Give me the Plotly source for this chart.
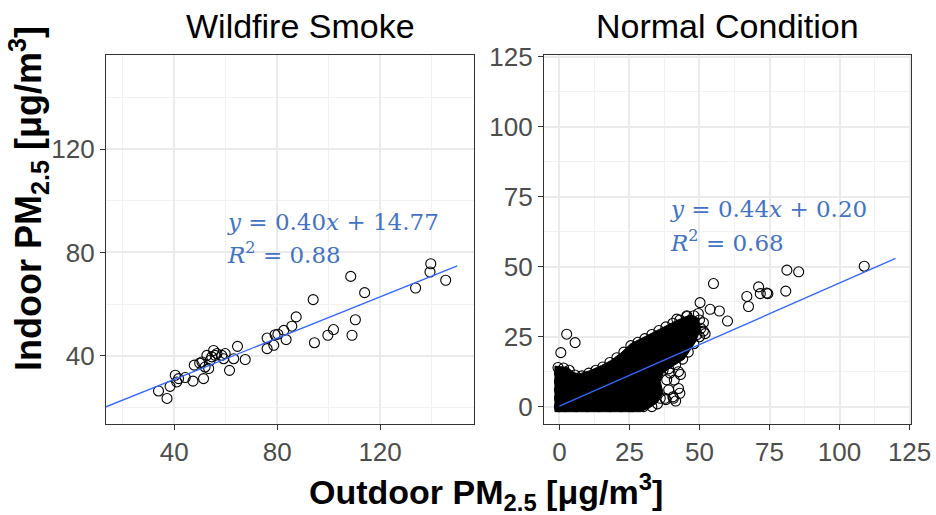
import plotly.graph_objects as go

# ---------------- data ----------------
# Wildfire smoke panel (outdoor x, indoor y)
wild_x = [33.9, 37.2, 38.4, 40.4, 41.0, 41.7, 44.3, 47.3, 47.8, 49.9, 50.8, 51.4, 52.0, 52.7, 53.4,
          54.0, 54.6, 55.3, 55.9, 56.6, 58.5, 59.2, 59.8, 61.5, 63.1, 64.6, 67.6, 76.1, 76.1, 78.7,
          79.2, 80.3, 82.6, 83.5, 85.7, 87.4, 94.0, 94.5, 99.7, 101.9, 108.6, 109.1, 110.4, 114.0,
          133.8, 139.4, 139.7, 145.5]
wild_y = [26.3, 23.4, 28.1, 32.4, 29.8, 31.1, 31.5, 30.1, 36.3, 37.1, 37.5, 31.1, 35.6, 40.1, 35.0,
          38.2, 39.5, 42.0, 40.1, 40.8, 40.1, 38.8, 40.8, 34.3, 38.8, 43.6, 38.5, 46.8, 42.7, 44.0,
          48.1, 48.3, 49.8, 46.2, 51.4, 55.0, 61.7, 45.0, 47.9, 50.1, 70.7, 47.9, 53.9, 64.4,
          66.2, 72.4, 75.6, 69.2]

# Normal condition panel: outline of the solid (over-plotted) mass
core_x = [-1.6, -1.6, 3.0, 5.0, 7.0, 11.0, 15.0, 18.4, 22.0, 25.5, 30.3, 36.2, 42.1, 46.9, 49.5,
          50.5, 48.5, 44.5, 40.0, 37.0, 36.0, 37.0, 35.0, 32.0, 29.0, 25.0, -1.6]
core_y = [-1.8, 14.5, 14.0, 12.2, 11.7, 12.9, 14.7, 16.5, 19.2, 22.5, 24.9, 27.9, 30.9, 32.9, 31.5,
          28.0, 23.0, 17.0, 14.2, 12.0, 9.0, 5.0, 1.5, -0.5, -1.8, -1.8, -1.8]

# Normal condition panel: individually visible points
norm_x = [2.6, 5.6, 0.5, 55.0, 50.2, 53.8, 57.1, 60.0, 49.6, 51.4, 51.4, 49.1, 45.5, 41.9, 52.0,
          66.9, 67.5, 71.1, 71.7, 74.0, 74.4, 80.8, 81.2, 85.4, 108.8,
          -0.5, 1.5, 3.5, 5.5, 8.0, 10.5, 13.0, 15.5, 18.0, 20.5, 23.0, 25.5, 28.0, 30.5, 33.0,
          35.5, 38.0, 40.5, 43.0, 45.5, 48.0, 50.0, 50.5, 50.0, 48.0, 46.0, 44.0, 41.5, 39.0,
          37.0, 39.5, 42.5, 43.2, 41.0, 42.5, 43.0, 40.5, 38.0, 36.0, 37.7, 35.0, 40.7, 38.3, 39.0, 41.5,
          30.0, 26.0, 22.0, 18.0, 14.0, 10.0, 6.0, 2.0, 0.0, 0.0, 0.0, 0.0, 0.0, 33.0, 25.2]
norm_y = [25.9, 22.9, 19.3, 44.0, 37.2, 34.8, 34.2, 30.6, 33.3, 30.0, 27.0, 25.8, 32.5, 31.3, 26.1,
          39.4, 35.8, 42.8, 40.4, 40.6, 40.4, 41.3, 48.8, 48.2, 50.2,
          14.0, 13.8, 13.0, 11.3, 11.0, 12.0, 13.0, 14.2, 15.8, 17.5, 19.5, 21.8, 23.0, 24.3, 25.8,
          27.2, 28.5, 29.8, 31.0, 32.2, 32.5, 31.0, 28.0, 25.0, 22.5, 19.5, 17.0, 15.0, 13.5,
          13.0, 12.0, 12.5, 11.5, 9.5, 6.5, 4.8, 3.5, 2.5, 3.0, 3.0, 1.0, 3.0, 9.6, 6.0, 2.0,
          0.0, 0.0, 0.0, 0.0, 0.0, 0.0, 0.0, 0.0, 0.0, 3.0, 6.0, 9.0, 12.0, 0.0, 0.0]

# Linear fits
wild_fit = {"slope": 0.40, "intercept": 14.77, "x_from": 13.5, "x_to": 150}
norm_fit = {"slope": 0.44, "intercept": 0.20, "x_from": 0, "x_to": 120}

panel_titles = ["Wildfire Smoke", "Normal Condition"]
wild_ticks = [40, 80, 120]
wild_minor = [20, 60, 100, 140]
norm_ticks = [0, 25, 50, 75, 100, 125]

# ---------------- figure ----------------
BLUE_LINE = "#3366FF"
EQ_BLUE = "#4472C4"
TICK_FONT = dict(family="Liberation Sans, Arial", size=26, color="#4D4D4D")

fig = go.Figure()

marker = dict(symbol="circle-open", size=10, color="black", line=dict(width=1.1, color="black"))

def fit_line(f):
    xs = [f["x_from"], f["x_to"]]
    return xs, [f["slope"] * v + f["intercept"] for v in xs]

fig.add_trace(go.Scatter(x=wild_x, y=wild_y, mode="markers", marker=marker,
                         xaxis="x", yaxis="y", showlegend=False))
lx, ly = fit_line(wild_fit)
fig.add_trace(go.Scatter(x=lx, y=ly, mode="lines", line=dict(color=BLUE_LINE, width=1.3),
                         xaxis="x", yaxis="y", showlegend=False))

fig.add_trace(go.Scatter(x=core_x, y=core_y, mode="lines", fill="toself", fillcolor="black",
                         line=dict(color="black", width=1), xaxis="x2", yaxis="y2", showlegend=False))
fig.add_trace(go.Scatter(x=norm_x, y=norm_y, mode="markers", marker=marker,
                         xaxis="x2", yaxis="y2", showlegend=False))
lx2, ly2 = fit_line(norm_fit)
fig.add_trace(go.Scatter(x=lx2, y=ly2, mode="lines", line=dict(color=BLUE_LINE, width=1.3),
                         xaxis="x2", yaxis="y2", showlegend=False))

W, H = 936, 515
def px_x(p): return p / W
def px_y(p): return 1 - p / H

axis_common = dict(showline=True, mirror=True, linecolor="#333333", linewidth=1.2,
                   ticks="outside", ticklen=5, tickcolor="#333333", tickwidth=1.2,
                   showgrid=True, gridcolor="#EBEBEB", gridwidth=1.5, automargin=False,
                   zeroline=False, tickfont=TICK_FONT)

fig.update_layout(
    width=W, height=H, margin=dict(l=0, r=0, t=0, b=0),
    plot_bgcolor="white", paper_bgcolor="white",
    xaxis=dict(domain=[px_x(106), px_x(474)], range=[13.5, 156.5], tickmode="array",
               tickvals=wild_ticks, anchor="y",
               minor=dict(tickvals=wild_minor, showgrid=True, gridcolor="#F2F2F2", gridwidth=1, ticks=""),
               **axis_common),
    yaxis=dict(domain=[px_y(424), px_y(55)], range=[13.5, 156.5], tickmode="array",
               tickvals=wild_ticks, anchor="x",
               minor=dict(tickvals=wild_minor, showgrid=True, gridcolor="#F2F2F2", gridwidth=1, ticks=""),
               **axis_common),
    xaxis2=dict(domain=[px_x(544), px_x(911)], range=[-5.5, 125.5], tickmode="array",
                tickvals=norm_ticks, anchor="y2",
                minor=dict(dtick=12.5, tick0=0, showgrid=True, gridcolor="#F2F2F2", gridwidth=1, ticks=""),
                **axis_common),
    yaxis2=dict(domain=[px_y(424), px_y(55)], range=[-6.2, 125.7], tickmode="array",
                tickvals=norm_ticks, anchor="x2",
                minor=dict(dtick=12.5, tick0=0, showgrid=True, gridcolor="#F2F2F2", gridwidth=1, ticks=""),
                **axis_common),
)

ann = []
TITLE_FONT = dict(family="Liberation Sans, Arial", size=34, color="black")
ann.append(dict(text=panel_titles[0], x=px_x(300), y=px_y(26), xref="paper", yref="paper",
                showarrow=False, font=TITLE_FONT, xanchor="center", yanchor="middle"))
ann.append(dict(text=panel_titles[1], x=px_x(727), y=px_y(26), xref="paper", yref="paper",
                showarrow=False, font=TITLE_FONT, xanchor="center", yanchor="middle"))

ann.append(dict(text="<b>Outdoor PM<sub>2.5</sub> [μg/m<sup>3</sup>]</b>", x=px_x(486), y=px_y(492),
                xref="paper", yref="paper", showarrow=False,
                font=dict(family="Liberation Sans, Arial", size=34, color="black"),
                xanchor="center", yanchor="middle"))
ann.append(dict(text="<b>Indoor PM<sub>2.5</sub> [μg/m<sup>3</sup>]</b>", x=px_x(29), y=px_y(199),
                xref="paper", yref="paper", showarrow=False,
                font=dict(family="Liberation Sans, Arial", size=36, color="black"), textangle=-90,
                xanchor="center", yanchor="middle"))

EQ_FONT = dict(family="DejaVu Serif", size=23, color=EQ_BLUE)
eqs = [
    ("x", "y", 59.7, 91.6, "<i>y</i> = 0.40<i>x</i> + 14.77"),
    ("x", "y", 59.7, 79.6, "<i>R</i><sup>2</sup> = 0.88"),
    ("x2", "y2", 38.7, 70.5, "<i>y</i> = 0.44<i>x</i> + 0.20"),
    ("x2", "y2", 38.7, 59.3, "<i>R</i><sup>2</sup> = 0.68"),
]
for xr, yr, xv, yv, t in eqs:
    ann.append(dict(text=t, x=xv, y=yv, xref=xr, yref=yr, showarrow=False, font=EQ_FONT,
                    xanchor="left", yanchor="middle"))

fig.update_layout(annotations=ann)
fig.write_html("out.html")
